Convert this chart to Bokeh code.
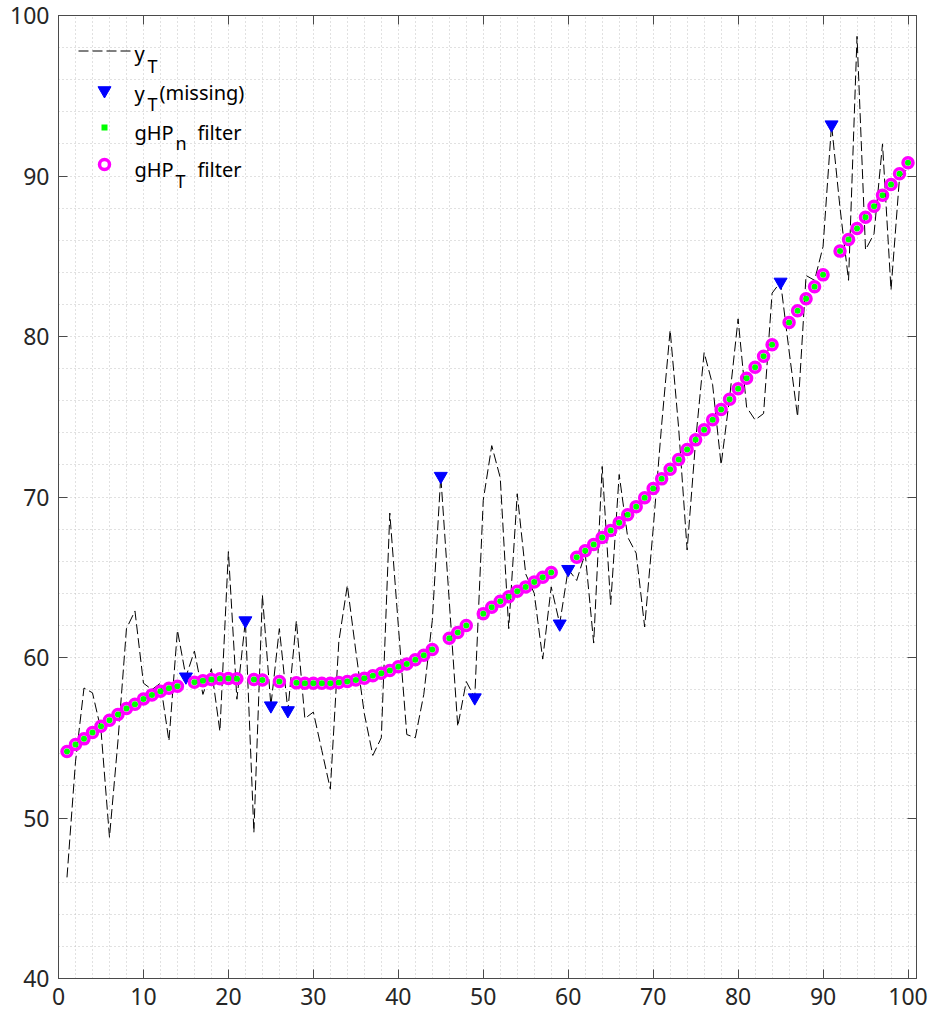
import math
from bokeh.plotting import figure
from bokeh.models import Range1d, FixedTicker, LinearAxis, Label
from bokeh.embed import file_html
from bokeh.resources import INLINE

# ---------------- data ----------------
t = list(range(1, 101))

y_T = [46.3, 53.5, 58.1, 57.8, 55.5, 48.8, 54.8, 61.8, 62.9, 58.4,
       58.0, 58.4, 54.8, 61.7, 58.8, 60.4, 57.7, 59.3, 55.4, 66.6,
       57.4, 62.3, 49.1, 63.9, 57.0, 61.8, 56.7, 62.3, 56.2, 56.6,
       54.2, 51.8, 61.0, 64.5, 60.4, 56.5, 53.9, 55.0, 69.0, 62.0,
       55.2, 55.0, 57.7, 62.3, 71.3, 63.5, 55.7, 58.5, 57.5, 69.8,
       73.2, 71.2, 61.8, 70.2, 65.2, 64.0, 59.9, 64.4, 62.1, 65.5,
       64.8, 66.5, 60.9, 71.9, 63.3, 71.4, 67.5, 66.5, 61.9, 68.0,
       74.5, 80.4, 74.3, 66.7, 73.5, 79.0, 77.0, 72.0, 76.2, 81.1,
       75.6, 74.8, 75.2, 82.7, 83.4, 79.1, 75.0, 83.8, 83.5, 85.6,
       93.2, 88.0, 83.5, 98.7, 85.4, 86.4, 92.0, 82.9, 89.9, 90.5]

nan = float("nan")
trend = [54.14, 54.58, 54.93, 55.33, 55.72, 56.09, 56.45, 56.82, 57.09, 57.42,
         57.67, 57.90, 58.09, 58.21, nan, 58.46, 58.55, 58.63, 58.67, 58.69,
         58.67, nan, 58.63, 58.60, nan, 58.50, nan, 58.42, 58.40, 58.39,
         58.39, 58.40, 58.44, 58.50, 58.60, 58.71, 58.86, 59.02, 59.19, 59.42,
         59.60, 59.86, 60.14, 60.50, nan, 61.20, 61.56, 62.00, nan, 62.72,
         63.13, 63.51, 63.78, 64.13, 64.40, 64.71, 65.00, 65.30, nan, nan,
         66.25, 66.65, 67.04, 67.48, 67.91, 68.39, 68.89, 69.40, 69.95, 70.53,
         71.13, 71.73, 72.34, 72.96, 73.56, 74.19, 74.81, 75.45, 76.09, 76.74,
         77.40, 78.09, 78.77, 79.48, nan, 80.87, 81.60, 82.35, 83.10, 83.84,
         nan, 85.32, 86.04, 86.73, 87.43, 88.12, 88.80, 89.47, 90.14, 90.82]

missing_idx = [15, 22, 25, 27, 45, 49, 59, 60, 85, 91]
y_missing = [y_T[i - 1] for i in missing_idx]

x_ticks = list(range(0, 101, 10))
y_ticks = list(range(40, 101, 10))
x_minor = list(range(0, 101, 2))
y_minor = list(range(40, 101, 2))

# ---------------- layout constants ----------------
W, H = 933, 1021
L, R, T, B = 58, 17, 15, 43
X0, X1, Y0, Y1 = 0, 101, 40, 100
FONT = "Noto Sans"
AX = "#4a4a4a"

p = figure(width=W, height=H, x_range=Range1d(X0, X1), y_range=Range1d(Y0, Y1),
           output_backend="svg", toolbar_location=None,
           min_border_left=L, min_border_right=R, min_border_top=T, min_border_bottom=B)
p.background_fill_color = "white"
p.border_fill_color = "white"
p.outline_line_color = AX
p.outline_line_width = 1

def style_axis(ax, ticks, show_labels=True):
    ax.ticker = FixedTicker(ticks=ticks)
    ax.axis_line_color = AX
    ax.axis_line_width = 1
    ax.major_tick_line_color = AX
    ax.major_tick_in = 9
    ax.major_tick_out = 0
    ax.minor_tick_in = 0
    ax.minor_tick_out = 0
    if show_labels:
        ax.major_label_text_font = FONT
        ax.major_label_text_font_size = "23px"
        ax.major_label_text_color = "#262626"
        ax.major_label_standoff = 9
    else:
        ax.major_label_overrides = {v: "" for v in ticks}
        ax.major_label_text_font_size = "1px"
        ax.major_label_standoff = 0

style_axis(p.xaxis[0], x_ticks)
style_axis(p.yaxis[0], y_ticks)
ax_r = LinearAxis()
style_axis(ax_r, y_ticks, False)
p.add_layout(ax_r, "right")
ax_t = LinearAxis()
style_axis(ax_t, x_ticks, False)
p.add_layout(ax_t, "above")

for g, ticks in ((p.xgrid[0], x_minor), (p.ygrid[0], y_minor)):
    g.ticker = FixedTicker(ticks=ticks)
    g.grid_line_color = "#c2c2c2"
    g.grid_line_dash = "1 3"
    g.grid_line_width = 1

# ---------------- data marks ----------------
p.line(t, y_T, line_color="black", line_width=1, line_dash="10 4")
p.scatter(missing_idx, y_missing, marker="inverted_triangle", size=13,
          fill_color="#0000FF", line_color="#0000FF")
p.scatter(t, trend, marker="circle", size=10, fill_color=None,
          line_color="#FF00FF", line_width=3.5)
p.scatter(t, trend, marker="circle", size=6, fill_color="#00FF00", line_color=None)

# ---------------- legend (manual, to allow subscripts) ----------------
fw = W - L - R
fh = H - T - B
def dx(px):
    return X0 + (px - L) * (X1 - X0) / fw
def dy(py):
    return Y0 + (T + fh - py) * (Y1 - Y0) / fh

p.line([dx(78), dx(131)], [dy(50.5), dy(50.5)], line_color="black", line_width=1, line_dash="10 4")
p.scatter([dx(104)], [dy(90)], marker="inverted_triangle", size=13,
          fill_color="#0000FF", line_color="#0000FF")
p.scatter([dx(104)], [dy(127)], marker="square", size=6, fill_color="#00FF00", line_color=None)
p.scatter([dx(104)], [dy(164)], marker="circle", size=10, fill_color=None,
          line_color="#FF00FF", line_width=3.5)

def txt(s, px, py, size):
    p.add_layout(Label(x=dx(px), y=dy(py), text=s, text_font=FONT,
                       text_font_size=size, text_color="black",
                       text_align="left", text_baseline="alphabetic"))

MAIN, SUB = "20px", "18px"
txt("y", 134, 53, MAIN)
txt("T", 147, 65, SUB)
txt("y", 134, 93, MAIN)
txt("T", 147, 103, SUB)
txt("(missing)", 159, 92, MAIN)
txt("gHP", 134, 132, MAIN)
txt("n", 175, 142, SUB)
txt("filter", 197, 132, MAIN)
txt("gHP", 134, 169, MAIN)
txt("T", 175, 180, SUB)
txt("filter", 197, 169, MAIN)

open("out.html", "w").write(file_html(p, INLINE))
